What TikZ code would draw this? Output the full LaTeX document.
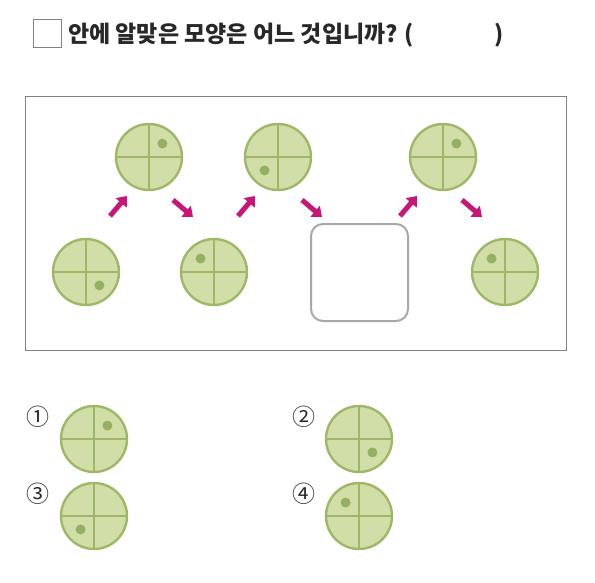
\documentclass[tikz,border=0pt]{standalone}
\usepackage{fontspec}
\newfontfamily\kr{Noto Sans CJK KR}
\usetikzlibrary{arrows.meta}
\definecolor{tilefill}{RGB}{210,222,168}
\definecolor{tileline}{RGB}{158,184,104}
\definecolor{tiledot}{RGB}{150,176,98}
\definecolor{arrowpink}{RGB}{200,22,120}
\definecolor{framegray}{RGB}{130,130,130}
\definecolor{boxgray}{RGB}{168,168,168}
\definecolor{textgray}{RGB}{40,40,40}

% tile: name, centre, angle of the dot
\newcommand{\tile}[3]{%
\node[tile] (#1) at (#2) {};
\draw[cross] (#1.north) -- (#1.south);
\draw[cross] (#1.west) -- (#1.east);
\fill[tiledot] (#1.center) ++(#3:19) circle (5);
}

\begin{document}
\begin{tikzpicture}[x=1pt,y=-1pt,
tile/.style={circle,draw=tileline,fill=tilefill,line width=2.4pt,minimum size=66pt,inner sep=0pt},
cross/.style={tileline,line width=2pt},
pinkarrow/.style={arrowpink,line width=5pt,-{Triangle[length=9pt,width=14pt]}},
numlabel/.style={font=\kr\fontsize{23}{23}\selectfont,text=textgray,inner sep=0pt},
titletext/.style={anchor=base west,inner sep=0pt,text=textgray,font=\kr\bfseries\fontsize{23}{23}\selectfont}]

\useasboundingbox (0,0) rectangle (595,582);

% title
\node[draw=framegray,line width=0.9pt,minimum size=28pt,inner sep=0pt] (sq) at (47,33) {};
\node[titletext] (title) at (68,42) {안에 알맞은 모양은 어느 것입니까? (};
\node[titletext] (paren) at (494,42) {)};

% frame
\draw[framegray,line width=0.8pt] (25,96) rectangle (566,350);

% sequence
\tile{t1}{86,272}{45}
\tile{t2}{149,157}{315}
\tile{t3}{214,272}{225}
\tile{t4}{278,157}{135}
\node[draw=boxgray,line width=2pt,rounded corners=12pt,minimum size=97pt,inner sep=0pt] (blank) at (359.5,272.5) {};
\tile{t6}{443,157}{315}
\tile{t7}{505,272}{225}

% arrows
\coordinate (u1a) at (110,216); \coordinate (u1b) at (127,196);
\coordinate (d1a) at (173,200); \coordinate (d1b) at (193,217);
\coordinate (u2a) at (238,216); \coordinate (u2b) at (255,196);
\coordinate (d2a) at (302,200); \coordinate (d2b) at (322,217);
\coordinate (u3a) at (400,216); \coordinate (u3b) at (417,196);
\coordinate (d3a) at (462,200); \coordinate (d3b) at (482,217);
\draw[pinkarrow] (u1a) -- (u1b);
\draw[pinkarrow] (d1a) -- (d1b);
\draw[pinkarrow] (u2a) -- (u2b);
\draw[pinkarrow] (d2a) -- (d2b);
\draw[pinkarrow] (u3a) -- (u3b);
\draw[pinkarrow] (d3a) -- (d3b);

% choices
\node[numlabel] (n1) at (38,417) {①};
\node[numlabel] (n2) at (304,417) {②};
\node[numlabel] (n3) at (38,494) {③};
\node[numlabel] (n4) at (304,494) {④};
\tile{o1}{94,439}{315}
\tile{o2}{359,439}{45}
\tile{o3}{94,516}{135}
\tile{o4}{359,516}{225}

\end{tikzpicture}
\end{document}
